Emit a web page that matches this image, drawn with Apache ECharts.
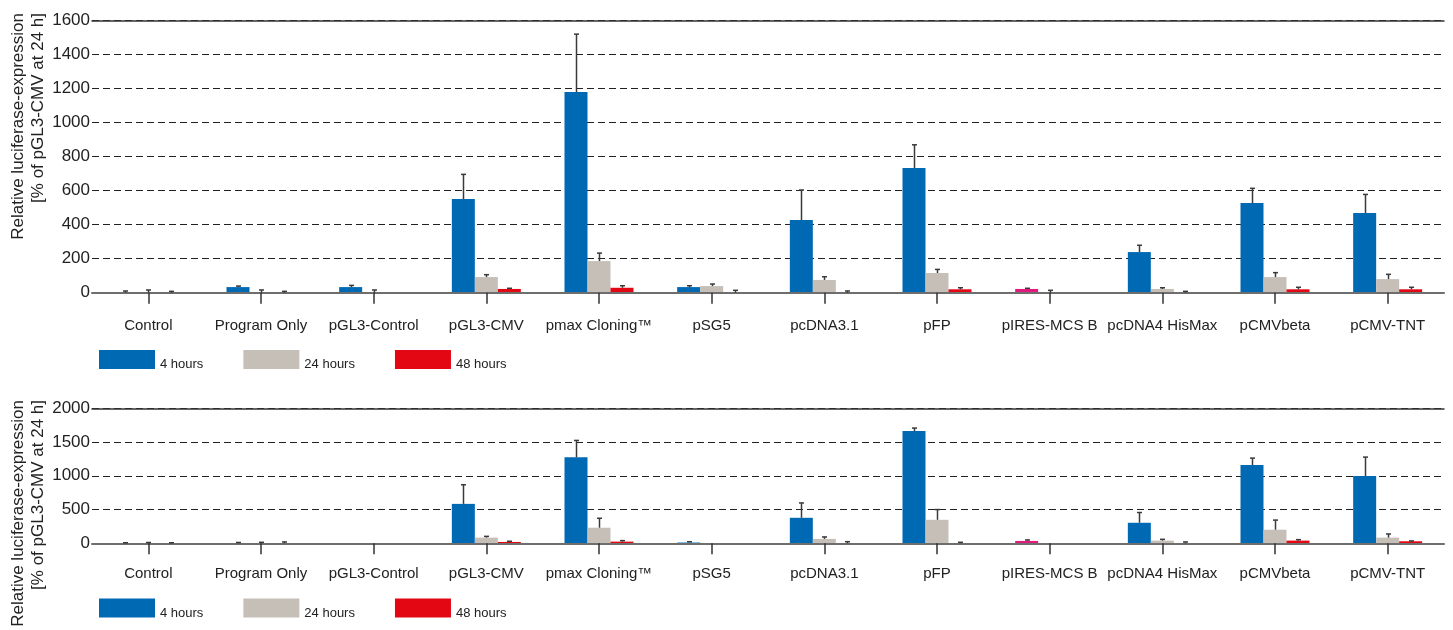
<!DOCTYPE html>
<html>
<head>
<meta charset="utf-8">
<script src="https://cdn.jsdelivr.net/npm/echarts@6/dist/echarts.min.js"></script>
<style>
html,body{margin:0;padding:0;background:#fff;}
#chart{width:1453px;height:630px;}
</style>
</head>
<body>
<div id="chart"></div>
<script>
const categories = ['Control','Program Only','pGL3-Control','pGL3-CMV','pmax Cloning\u2122','pSG5','pcDNA3.1','pFP','pIRES-MCS B','pcDNA4 HisMax','pCMVbeta','pCMV-TNT'];
const seriesNames = ['4 hours','24 hours','48 hours'];

// Top chart values and error bar sizes
const top4h     = [0, 33, 33, 551, 1180, 33, 427, 733, 22, 239, 527, 469];
const top4hErr  = [10, 6, 10, 145, 341, 8, 177, 137, 4, 40, 87, 109];
const top24h    = [0, 0, 0, 92, 186, 39, 75, 116, 0, 22, 92, 80];
const top24hErr = [16, 16, 16, 14, 47, 12, 19, 21, 14, 7, 26, 28];
const top48h    = [0, 0, null, 22, 29, 0, 0, 20, null, 0, 20, 20];
const top48hErr = [8, 8, null, 4, 12, 14, 10, 9, null, 8, 12, 12];
const topTicks  = {min: 0, max: 1600, interval: 200};

// Bottom chart values and error bar sizes
const bot4h     = [0, 0, null, 584, 1274, 15, 378, 1662, 35, 304, 1159, 996];
const bot4hErr  = [8, 12, null, 283, 250, 8, 220, 45, 15, 152, 103, 281];
const bot24h    = [0, 0, null, 84, 231, null, 65, 348, null, 40, 201, 84];
const bot24hErr = [12, 15, null, 19, 140, null, 29, 152, null, 19, 143, 54];
const bot48h    = [0, 0, null, 20, 25, null, 0, 0, null, 0, 40, 30];
const bot48hErr = [8, 20, null, 10, 15, null, 24, 15, null, 20, 14, 5];
const botTicks  = {min: 0, max: 2000, interval: 500};

const yTitle = 'Relative luciferase-expression\n[% of pGL3-CMV at 24 h]';

// styles
const colors = ['#0069b4', '#c6bfb8', '#e30613'];
const overrides = [ {0: {8: '#e3197e'}}, {0: {5: '#4ea2de', 8: '#e3197e'}} ];
const FONT = '"Liberation Sans", Arial, sans-serif';
const BAR_W = 23;

const chart = echarts.init(document.getElementById('chart'));

function barData(vals, gi, si) {
  return vals.map((v, i) => {
    const c = overrides[gi][si] && overrides[gi][si][i];
    return c ? {value: v, itemStyle: {color: c}} : v;
  });
}
function errData(vals, errs) {
  return vals.map((v, i) => [i, v == null ? 0 : v, errs[i]]);
}
function errRender(offset) {
  return function (params, api) {
    const e = api.value(2);
    if (e == null || isNaN(e)) return null;
    const ci = api.value(0), v = api.value(1);
    const p0 = api.coord([ci, v]);
    const p1 = api.coord([ci, v + e]);
    const x = Math.round(p0[0] + offset) + 0.5;
    const st = {stroke: '#3a3a3a', lineWidth: 1.5};
    return {type: 'group', children: [
      {type: 'line', shape: {x1: x, y1: p0[1], x2: x, y2: p1[1]}, style: st},
      {type: 'line', shape: {x1: x - 2.5, y1: p1[1], x2: x + 2.5, y2: p1[1]}, style: st}
    ]};
  };
}

const grids = [
  {left: 92, right: 9, top: 20.7, height: 272},
  {left: 92, right: 9, top: 408.3, height: 135}
];
const ticks = [topTicks, botTicks];
const labelMargins = [26, 23];
const groups = [
  [[top4h, top4hErr], [top24h, top24hErr], [top48h, top48hErr]],
  [[bot4h, bot4hErr], [bot24h, bot24hErr], [bot48h, bot48hErr]]
];

const xAxes = [], yAxes = [], series = [];
grids.forEach((g, gi) => {
  xAxes.push({
    type: 'category', gridIndex: gi, data: categories,
    axisLine: {show: true, lineStyle: {color: '#6e6e6e', width: 2}},
    axisTick: {show: true, alignWithLabel: true, length: 11, lineStyle: {color: '#333', width: 1.5}},
    axisLabel: {color: '#222', fontFamily: FONT, fontSize: 15, margin: labelMargins[gi], interval: 0},
    z: 3
  });
  xAxes.push({
    type: 'category', gridIndex: gi, data: categories, position: 'top',
    axisLine: {show: true, lineStyle: {color: '#333', width: 1.5}},
    axisTick: {show: false}, axisLabel: {show: false}
  });
  yAxes.push({
    type: 'value', gridIndex: gi, min: ticks[gi].min, max: ticks[gi].max, interval: ticks[gi].interval,
    axisLine: {show: false}, axisTick: {show: false},
    axisLabel: {color: '#222', fontFamily: FONT, fontSize: 17, margin: 2, formatter: v => String(v)},
    splitLine: {show: true, lineStyle: {color: '#222', width: 1.2, type: [7, 4]}}
  });
  groups[gi].forEach((pair, si) => {
    series.push({
      type: 'bar', name: seriesNames[si], xAxisIndex: gi * 2, yAxisIndex: gi,
      data: barData(pair[0], gi, si), barWidth: BAR_W, barGap: '0%',
      itemStyle: {color: colors[si]}, animation: false, z: 2
    });
  });
  groups[gi].forEach((pair, si) => {
    series.push({
      type: 'custom', name: 'err' + gi + si, xAxisIndex: gi * 2, yAxisIndex: gi,
      data: errData(pair[0], pair[1]), renderItem: errRender((si - 1) * BAR_W),
      encode: {x: 0, y: [1, 2]}, animation: false, z: 4, silent: true
    });
  });
});

const legendBase = {
  left: 99, padding: 0, itemWidth: 56, itemHeight: 19, itemGap: 40, icon: 'rect',
  data: seriesNames, selectedMode: false,
  formatter: name => '{t|' + name + '}',
  textStyle: {color: '#222', fontFamily: FONT, fontSize: 13,
    rich: {t: {color: '#222', fontFamily: FONT, fontSize: 13, padding: [10, 0, 0, 0]}}}
};

chart.setOption({
  backgroundColor: '#fff',
  animation: false,
  grid: grids,
  xAxis: xAxes,
  yAxis: yAxes,
  legend: [Object.assign({top: 350}, legendBase), Object.assign({top: 598.5}, legendBase)],
  graphic: [
    {type: 'text', x: 8, y: 13, rotation: Math.PI / 2,
     style: {text: yTitle, fill: '#222', font: '17px ' + FONT, align: 'right', verticalAlign: 'top', lineHeight: 20}},
    {type: 'text', x: 8, y: 400, rotation: Math.PI / 2,
     style: {text: yTitle, fill: '#222', font: '17px ' + FONT, align: 'right', verticalAlign: 'top', lineHeight: 20}}
  ],
  series: series
});
</script>
</body>
</html>
